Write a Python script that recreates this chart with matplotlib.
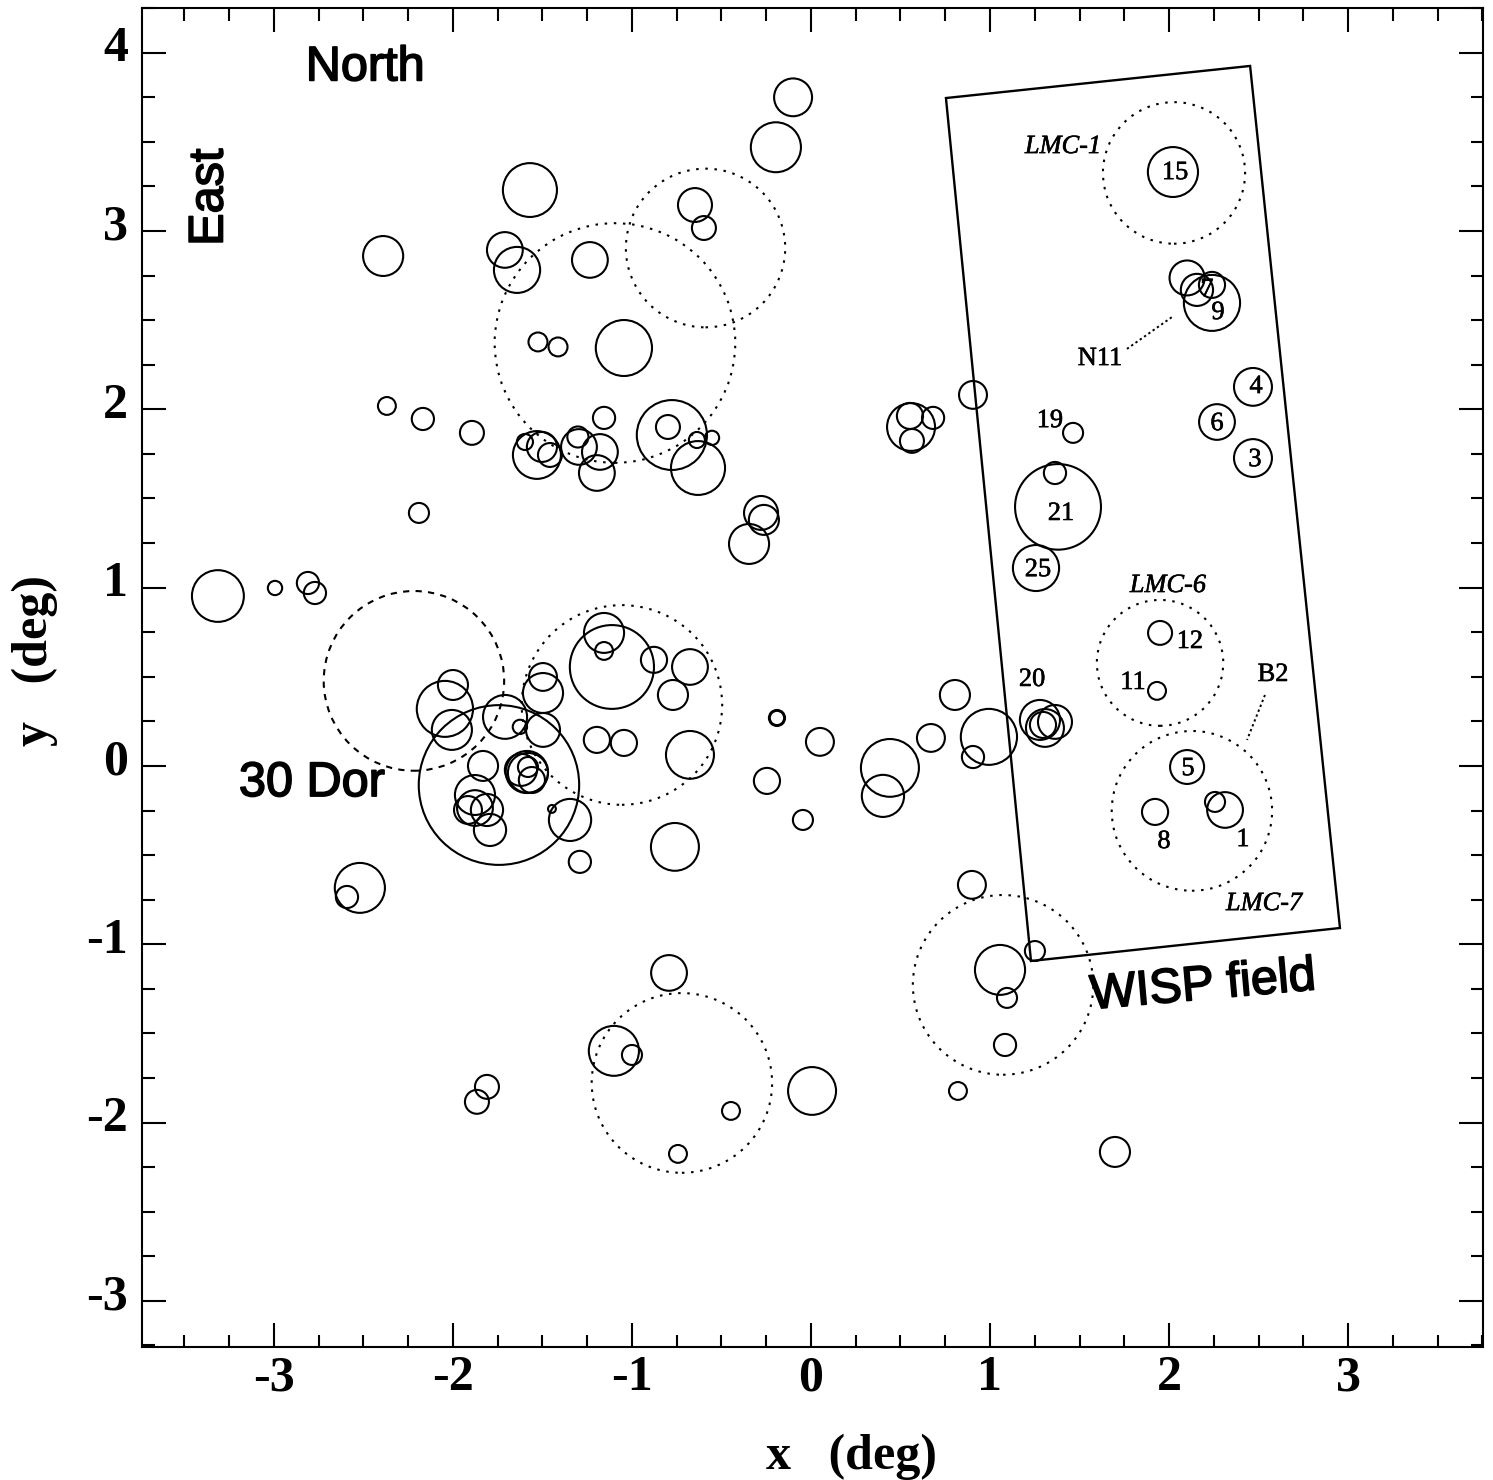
import matplotlib
matplotlib.use("Agg")
import matplotlib.pyplot as plt
from matplotlib.patches import Circle, Polygon
from matplotlib.patheffects import withStroke
from matplotlib.ticker import MultipleLocator
from matplotlib.transforms import ScaledTranslation

# solid circles (deg)
solid_x = [-0.10, -0.196, -1.57, -0.648, -0.598, -2.39, -1.71, -1.642, -1.235, -1.045, -1.525, -1.413,
           -2.369, -2.168, -1.894, -2.19, -1.156, -1.296, -1.302, -1.179, -1.196, -1.531, -1.598, -1.503,
           -1.458, -0.777, -0.799, -0.631, -0.637, -0.553, 0.559, 0.553, 0.564, 0.682, 0.905, -0.279,
           -0.263, -0.346, -3.313, -2.994, -2.81, -2.771, -1.156, -1.156, -1.112, -0.877, -0.676, -0.771,
           -1.497, -1.497, -1.497, -1.196, -1.045, -0.676, -2.0, -2.045, -2.006, -1.709, -1.626, -1.832,
           -1.587, -1.62, -1.581, -1.559, -1.581, -1.743, -1.877, -1.877, -1.916, -1.81, -1.793, -1.447,
           -1.346, -1.291, -0.76, -2.52, -2.592, -0.19, -0.19, -0.246, -0.045, 0.05, 0.441, 0.402,
           0.67, 0.804, 0.994, 0.905, 1.279, 1.363, 1.307, 1.296, 0.899, 1.251, 1.056, 1.095,
           1.084, 0.821, 1.698, 0.006, -0.447, -0.743, -0.793, -1.101, -1.0, -1.81, -1.866,
           2.022, 2.101, 2.156, 2.24, 2.24, 2.469, 2.268, 2.469, 1.464, 1.363, 1.38, 1.257,
           1.95, 1.933, 2.101, 1.922, 2.313, 2.257]
solid_y = [3.75, 3.47, 3.23, 3.146, 3.017, 2.86, 2.894, 2.782, 2.838, 2.344, 2.378, 2.35,
           2.019, 1.946, 1.868, 1.419, 1.952, 1.789, 1.845, 1.761, 1.643, 1.744, 1.817, 1.789,
           1.744, 1.856, 1.901, 1.671, 1.828, 1.84, 1.901, 1.963, 1.823, 1.952, 2.081, 1.419,
           1.38, 1.245, 0.953, 0.998, 1.026, 0.97, 0.746, 0.645, 0.555, 0.595, 0.555, 0.398,
           0.499, 0.409, 0.202, 0.146, 0.129, 0.062, 0.454, 0.32, 0.202, 0.275, 0.219, 0.0,
           -0.034, -0.022, -0.039, -0.079, -0.006, -0.107, -0.163, -0.236, -0.247, -0.247, -0.359, -0.241,
           -0.303, -0.538, -0.454, -0.684, -0.735, 0.269, 0.269, -0.084, -0.303, 0.135, -0.011, -0.168,
           0.157, 0.398, 0.163, 0.05, 0.258, 0.247, 0.213, 0.23, -0.667, -1.038, -1.144, -1.301,
           -1.565, -1.823, -2.165, -1.823, -1.935, -2.176, -1.161, -1.598, -1.621, -1.8, -1.884,
           3.331, 2.737, 2.67, 2.698, 2.597, 2.126, 1.929, 1.727, 1.868, 1.643, 1.453, 1.11,
           0.746, 0.421, -0.006, -0.258, -0.247, -0.202]
solid_r = [0.106, 0.14, 0.151, 0.095, 0.067, 0.112, 0.10, 0.129, 0.10, 0.157, 0.053, 0.053,
           0.05, 0.062, 0.067, 0.056, 0.062, 0.10, 0.059, 0.10, 0.10, 0.134, 0.045, 0.084,
           0.067, 0.196, 0.067, 0.151, 0.045, 0.04, 0.134, 0.073, 0.067, 0.062, 0.078, 0.095,
           0.084, 0.112, 0.145, 0.04, 0.062, 0.062, 0.112, 0.05, 0.235, 0.073, 0.10, 0.084,
           0.078, 0.112, 0.095, 0.073, 0.073, 0.134, 0.084, 0.157, 0.112, 0.123, 0.04, 0.084,
           0.118, 0.09, 0.112, 0.073, 0.056, 0.448, 0.112, 0.10, 0.078, 0.09, 0.09, 0.022,
           0.118, 0.062, 0.134, 0.14, 0.062, 0.045, 0.04, 0.073, 0.056, 0.078, 0.162, 0.118,
           0.078, 0.084, 0.157, 0.062, 0.112, 0.095, 0.106, 0.073, 0.078, 0.056, 0.14, 0.056,
           0.062, 0.05, 0.084, 0.134, 0.05, 0.05, 0.10, 0.14, 0.056, 0.067, 0.067,
           0.14, 0.098, 0.09, 0.073, 0.157, 0.106, 0.10, 0.106, 0.056, 0.062, 0.24, 0.129,
           0.067, 0.05, 0.095, 0.073, 0.10, 0.056]

# dotted circles (LMC fields)
dot_x = [2.028, -0.589, -1.095, -2.218, -1.056, 1.95, 2.128, 1.073, -0.721]
dot_y = [3.326, 2.905, 2.372, 0.477, 0.342, 0.578, -0.252, -1.228, -1.778]
dot_r = [0.397, 0.445, 0.672, 0.504, 0.56, 0.353, 0.448, 0.504, 0.504]

# WISP field corners
wisp_x = [0.754, 2.453, 2.955, 1.229]
wisp_y = [3.746, 3.926, -0.909, -1.094]

# leader lines
n11_x = [1.765, 2.017]
n11_y = [2.339, 2.518]
b2_x = [2.536, 2.436]
b2_y = [0.398, 0.146]

# small labels
num_labels = ["15", "9", "7", "4", "6", "3", "19", "21", "25", "12", "11", "20", "5", "8", "1", "N11", "B2"]
num_x = [2.034, 2.274, 2.212, 2.486, 2.268, 2.48, 1.335, 1.397, 1.268, 2.117, 1.799, 1.235, 2.106, 1.972, 2.413, 1.615, 2.581]
num_y = [3.325, 2.54, 2.669, 2.125, 1.917, 1.715, 1.934, 1.413, 1.098, 0.695, 0.465, 0.482, -0.018, -0.427, -0.416, 2.282, 0.51]

lmc_labels = ["LMC-1", "LMC-6", "LMC-7"]
lmc_x = [1.408, 1.994, 2.531]
lmc_y = [3.471, 1.009, -0.775]

x_ticks = [-3, -2, -1, 0, 1, 2, 3]
y_ticks = [-3, -2, -1, 0, 1, 2, 3, 4]

fig = plt.figure(figsize=(14.93, 14.80), dpi=100)
ax = fig.add_axes([142 / 1493, 1 - 1347 / 1480, (1483 - 142) / 1493, (1347 - 8) / 1480])

for x, y, r in zip(solid_x, solid_y, solid_r):
    ax.add_patch(Circle((x, y), r, fill=False, ec="k", lw=1.5))

# the 30 Dor neighbour is more dashed than the others
for i, (x, y, r) in enumerate(zip(dot_x, dot_y, dot_r)):
    ls = (0, (3, 3)) if i == 3 else (0, (1.2, 3.2))
    ax.add_patch(Circle((x, y), r, fill=False, ec="k", lw=1.5, ls=ls))

ax.add_patch(Polygon(list(zip(wisp_x, wisp_y)), closed=True, fill=False, ec="k", lw=1.7))
ax.plot(n11_x, n11_y, color="k", lw=1.4, ls=(0, (1.2, 1.5)))
ax.plot(b2_x, b2_y, color="k", lw=1.4, ls=(0, (1.2, 1.5)))

thin = [withStroke(linewidth=0.4, foreground="k")]
thick = [withStroke(linewidth=1.2, foreground="k")]

for s, x, y in zip(num_labels, num_x, num_y):
    ax.text(x, y, s, family="Liberation Serif", fontsize=19, ha="center", va="center", path_effects=thin)
for s, x, y in zip(lmc_labels, lmc_x, lmc_y):
    ax.text(x, y, s, family="Liberation Serif", style="italic", fontsize=19, ha="center", va="center", path_effects=thin)

ax.text(-2.49, 3.915, "North", family="Liberation Sans", fontsize=35, ha="center", va="center", path_effects=thick)
ax.text(-3.357, 3.19, "East", family="Liberation Sans", fontsize=35, rotation=90, ha="center", va="center", path_effects=thick)
ax.text(-2.788, -0.099, "30 Dor", family="Liberation Sans", fontsize=35, ha="center", va="center", path_effects=thick)
ax.text(2.19, -1.238, "WISP field", family="Liberation Sans", fontsize=35, rotation=5, ha="center", va="center", path_effects=thick)

ax.set_xlim(-3.737, 3.754)
ax.set_ylim(-3.259, 4.251)
ax.set_xticks(x_ticks)
ax.set_yticks(y_ticks)
ax.set_xticklabels([str(t) for t in x_ticks], family="Liberation Serif", fontweight="bold", fontsize=36)
ax.set_yticklabels([str(t) for t in y_ticks], family="Liberation Serif", fontweight="bold", fontsize=36)
ax.xaxis.set_minor_locator(MultipleLocator(0.25))
ax.yaxis.set_minor_locator(MultipleLocator(0.25))
ax.tick_params(which="major", direction="in", length=17, width=1.5, top=True, right=True)
ax.tick_params(which="minor", direction="in", length=9, width=1.5, top=True, right=True)
ax.tick_params(axis="x", which="major", pad=6)
ax.tick_params(axis="y", which="major", pad=10)

# y tick labels sit a little above their ticks
shift_up = ScaledTranslation(0, 9 / 100, fig.dpi_scale_trans)
for lab in ax.get_yticklabels():
    lab.set_transform(lab.get_transform() + shift_up)

for sp in ax.spines.values():
    sp.set_linewidth(1.5)

fig.text(0.570, 0.0155, "x   (deg)", family="Liberation Serif", fontweight="bold", fontsize=36, ha="center", va="center")
fig.text(0.0234, 0.554, "y   (deg)", family="Liberation Serif", fontweight="bold", fontsize=36, rotation=90, ha="center", va="center")

fig.savefig("out.png", dpi=100)
